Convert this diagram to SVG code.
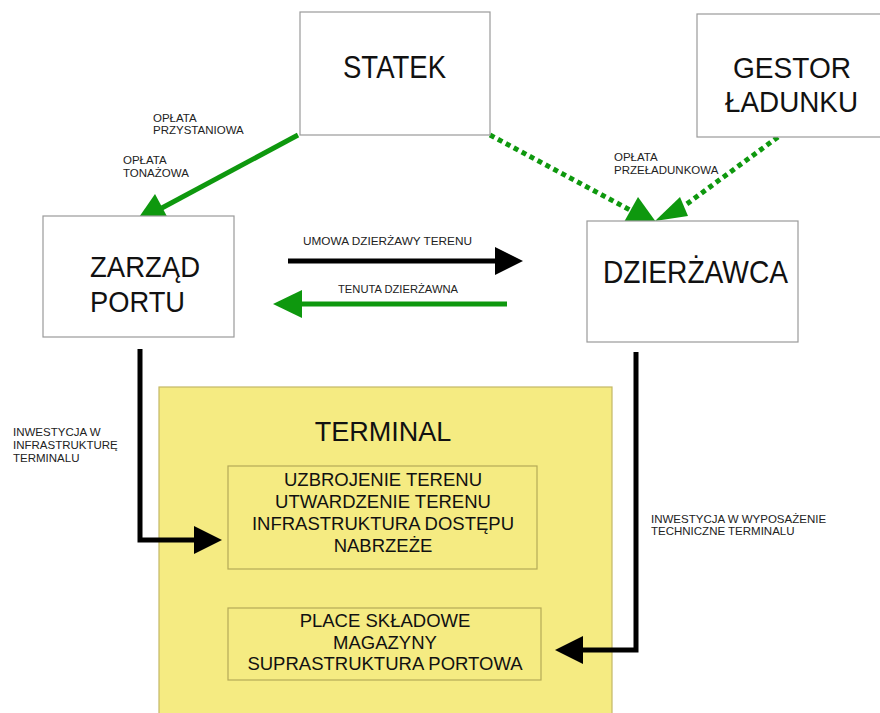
<svg xmlns="http://www.w3.org/2000/svg" width="880" height="713" viewBox="0 0 880 713">
<style>
.box{fill:#fff;stroke:#9a9a9a;stroke-width:1.2}
.big{font-family:"Liberation Sans",Arial,sans-serif;font-size:32px;fill:#111}
.big2{font-family:"Liberation Sans",Arial,sans-serif;font-size:29.5px;fill:#111}
.lbl{font-family:"Liberation Sans",Arial,sans-serif;font-size:11.5px;fill:#222}
.mid{font-family:"Liberation Sans",Arial,sans-serif;font-size:18.5px;fill:#111;text-anchor:middle}
.g{stroke:#0e980e;stroke-width:5;fill:none}
.gd{stroke:#0e980e;stroke-width:5;fill:none;stroke-dasharray:5 4}
.k{stroke:#000;stroke-width:5;fill:none}
.gh{fill:#0e980e}
.kh{fill:#000}
</style>
<rect width="880" height="713" fill="#fff"/>
<g id="terminal">
<rect x="159" y="387" width="453" height="340" fill="#f5eb82" stroke="#c4b866" stroke-width="1.2"/>
<text x="383" y="441" font-family="Liberation Sans,Arial,sans-serif" font-size="27" fill="#111" text-anchor="middle">TERMINAL</text>
</g>
<g id="infra">
<rect x="228" y="466" width="309" height="103" fill="none" stroke="#b5aa58" stroke-width="1.2"/>
<text class="mid" x="383" y="486">UZBROJENIE TERENU</text>
<text class="mid" x="383" y="508">UTWARDZENIE TERENU</text>
<text class="mid" x="383" y="530">INFRASTRUKTURA DOSTĘPU</text>
<text class="mid" x="383" y="552">NABRZEŻE</text>
</g>
<g id="supra">
<rect x="228" y="608" width="313" height="72" fill="none" stroke="#b5aa58" stroke-width="1.2"/>
<text class="mid" x="385" y="627">PLACE SKŁADOWE</text>
<text class="mid" x="385" y="649">MAGAZYNY</text>
<text class="mid" x="385" y="670">SUPRASTRUKTURA PORTOWA</text>
</g>
<g id="connectors">
<line class="g" x1="298" y1="135" x2="160" y2="209"/>
<polygon class="gh" points="155,194 170,222 135,223"/>
<line class="gd" x1="490" y1="135" x2="630" y2="210"/>
<polygon class="gh" points="638,197 624,222 656,222"/>
<line class="gd" x1="778" y1="137" x2="684" y2="206"/>
<polygon class="gh" points="680,197 688,216 655,221"/>
<line class="k" x1="288" y1="261" x2="497" y2="261"/>
<polygon class="kh" points="495,247 523,261 495,275"/>
<line class="g" x1="507" y1="304" x2="300" y2="304"/>
<polygon class="gh" points="302,290 273,304 302,318"/>
<polyline class="k" points="140,349 140,540 196,540"/>
<polygon class="kh" points="194,526 222,540 194,554"/>
<polyline class="k" points="636,352 636,650 581,650"/>
<polygon class="kh" points="583,636 555,650 583,664"/>
</g>
<g id="statek">
<rect class="box" x="300" y="12" width="190" height="123"/>
<text class="big" x="343" y="78" textLength="103" lengthAdjust="spacingAndGlyphs">STATEK</text>
</g>
<g id="gestor">
<rect class="box" x="697" y="14" width="200" height="123"/>
<text class="big2" x="733" y="78" textLength="118" lengthAdjust="spacingAndGlyphs">GESTOR</text>
<text class="big2" x="725" y="112" textLength="133" lengthAdjust="spacingAndGlyphs">ŁADUNKU</text>
</g>
<g id="zarzad">
<rect class="box" x="43" y="216" width="191" height="121"/>
<text class="big2" x="90" y="277" textLength="110" lengthAdjust="spacingAndGlyphs">ZARZĄD</text>
<text class="big2" x="90" y="312" textLength="95" lengthAdjust="spacingAndGlyphs">PORTU</text>
</g>
<g id="dzierzawca">
<rect class="box" x="587" y="221" width="211" height="121"/>
<text class="big" x="603" y="283" textLength="185" lengthAdjust="spacingAndGlyphs">DZIERŻAWCA</text>
</g>
<g id="labels">
<text class="lbl" x="153" y="122">OPŁATA</text>
<text class="lbl" x="153" y="134">PRZYSTANIOWA</text>
<text class="lbl" x="123" y="164">OPŁATA</text>
<text class="lbl" x="123" y="177">TONAŻOWA</text>
<text class="lbl" x="614" y="161">OPŁATA</text>
<text class="lbl" x="614" y="174">PRZEŁADUNKOWA</text>
<text class="lbl" x="303" y="245" font-size="11" textLength="169" lengthAdjust="spacingAndGlyphs">UMOWA DZIERŻAWY TERENU</text>
<text class="lbl" x="338" y="293" font-size="11" textLength="120" lengthAdjust="spacingAndGlyphs">TENUTA DZIERŻAWNA</text>
<text class="lbl" x="13" y="436">INWESTYCJA W</text>
<text class="lbl" x="13" y="449">INFRASTRUKTURĘ</text>
<text class="lbl" x="13" y="462">TERMINALU</text>
<text class="lbl" x="651" y="523">INWESTYCJA W WYPOSAŻENIE</text>
<text class="lbl" x="651" y="535">TECHNICZNE TERMINALU</text>
</g>
</svg>
